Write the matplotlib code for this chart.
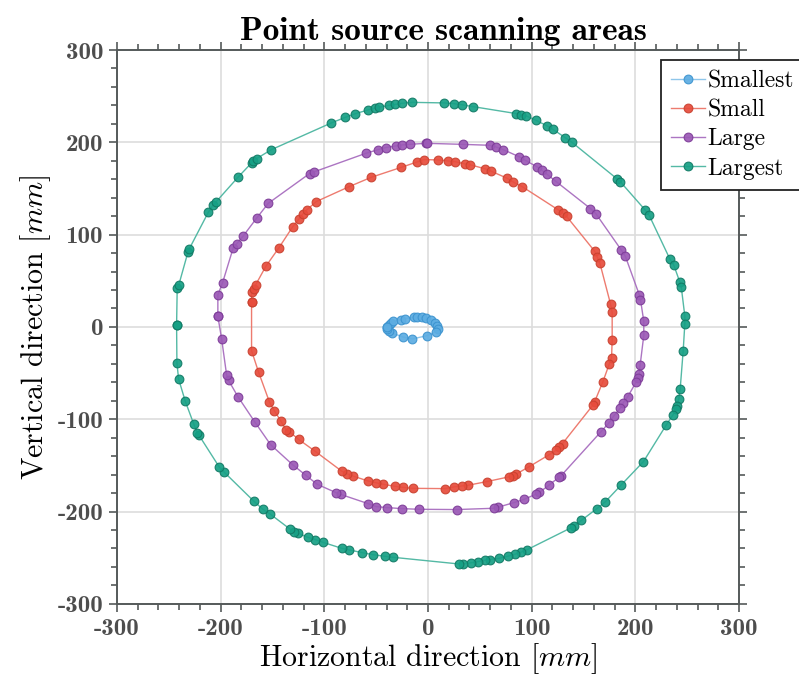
import matplotlib
matplotlib.use("Agg")
import matplotlib.pyplot as plt
from matplotlib.ticker import MultipleLocator

# ---------------- data (mm) ----------------
series_names = ["Smallest", "Small", "Large", "Largest"]

smallest_x = [-40, -38, -36, -34, -26, -22, -14, -10.5, -6, -1.5, 3, 7, 9, 10, 8, -1, -15, -24, -35, -38, -40]
smallest_y = [0, 2.5, 4, 6, 8, 9, 10.5, 11, 10.5, 9.5, 7.5, 4.5, 1, -2, -5, -9.5, -13, -11, -6.5, -4, -2]

small_x = [-170.2, -170.2, -168, -166.3, -156.4, -143.9, -130.4, -124.2, -121, -116.9, -107.8, -76, -54.8, -25.8, -10.4, -4,
           9.5, 19.5, 25.9, 35.5, 40.3, 55.4, 60.3, 76.4, 81.5, 90.8, 125.2, 129.7, 133.6, 160.8, 163.2, 165.7, 176, 177.6,
           177.6, 177, 174.7, 168.6, 160.6, 158.9, 129.7, 126.8, 123.6, 116.5, 97.6, 85.3, 81.8, 77.9, 56.7, 38.4, 32.6, 25.3, 16.2,
           -14.9, -24.6, -32, -43.2, -50.6, -58, -72.8, -78.6, -83.1, -108.8, -124.9, -133.8, -137.1, -142.2, -148.3, -153.1, -163.5, -170.2]
small_y = [27.1, 37.9, 41.5, 45.5, 65.7, 85.6, 108.7, 117.3, 122, 126.8, 135.8, 152, 162.1, 172.9, 178.8, 181.3,
           180.9, 179.8, 179.1, 176.6, 175.8, 171.2, 169, 161, 157.4, 152, 127.1, 123.8, 119.8, 81.9, 75.8, 69.3, 24.9, 15.8,
           -14.5, -33.6, -40.5, -59.6, -81.3, -84.9, -126.4, -130, -133.7, -138.7, -151.4, -159.3, -161.1, -162.5, -167.6, -171.6, -172.3, -173.3, -175.2,
           -174.9, -173.8, -172.7, -170.5, -168.7, -166.9, -161.4, -158.9, -156.4, -134.8, -121.8, -113.4, -111.3, -101.5, -90.7, -80.9, -48.8, -25.7]

large_x = [-202.7, -202.7, -198.2, -187.9, -184.7, -178.2, -165.4, -154.1, -114.3, -110.1, -60, -48, -41, -30.7, -24.9, -17.8, -2.4, -0.8,
           33.3, 59.3, 65.4, 72.5, 88.2, 93.3, 105.3, 109.5, 114.3, 123.3, 156.7, 161.8, 186.6, 190.2, 203.7, 204.9, 208.1,
           208.1, 204.6, 203.7, 202.3, 200.8, 192.7, 188.2, 185.6, 179.2, 174.7, 166.6, 127.8, 126.2, 116.5, 107.5, 103.7, 92.8, 82.8, 67.3, 63.5, 27.5,
           -8.9, -24.9, -39.1, -50, -58, -84.4, -88.9, -106.9, -117.8, -130.4, -151.9, -167.3, -183.4, -192.4, -194.3, -199.1]
large_y = [11.5, 34.7, 47.7, 85.6, 89.9, 98.6, 117.7, 133.9, 166.1, 167.9, 188.1, 192.1, 194.3, 196.1, 197.2, 197.8, 198.9, 198.9,
           197.8, 196.8, 195, 192.1, 184.2, 180.9, 173.3, 170.1, 165.8, 157.7, 128.2, 122.8, 83, 76.9, 35, 29.6, 6.1,
           -9.1, -41.2, -50.6, -55.3, -59.6, -75.5, -82.3, -87.8, -96.4, -103.7, -113.8, -161.9, -162.9, -171.6, -179.2, -181.4, -186.8, -190.4, -195.4, -196.5, -197.9,
           -197.6, -196.9, -195.8, -194.7, -191.4, -181.4, -179.5, -170.5, -160.8, -149.5, -127.5, -102.6, -75.5, -57.9, -51.7, -12.7]

largest_x = [-242.5, -241.9, -240.3, -231.6, -230.3, -212, -207.5, -204.2, -183.4, -170.2, -168.6, -165.4, -151.2, -93.3, -79.9, -70.2, -58, -51.3, -47.1, -38.1, -32.3, -25.3, -15,
             15.3, 24.9, 32.3, 43.2, 85.3, 89.9, 94.7, 104.3, 114.3, 120.4, 132.3, 138.4, 182.4, 185.6, 209.1, 213.3, 233.2, 237.1, 242.8, 244.2, 247.7, 247.7,
             246.1, 243.2, 241.9, 239.9, 239.3, 236.4, 230, 207.8, 186.6, 170.9, 162.8, 148, 141, 137.7, 95.7, 89.5, 83.7, 76.7, 68.7, 59.6, 54.5, 48.4, 41.3, 33.3, 29.4,
             -33.9, -41.9, -53.5, -63.8, -76, -83.1, -101.4, -108.8, -116.2, -125.2, -129, -133.3, -152.8, -159.3, -168.3, -196.5, -201.4, -221.3, -222.6, -226.1, -234.1, -240.6, -242.2]
largest_y = [2.5, 42.2, 45.8, 80.8, 84.5, 124, 131.7, 135.8, 162, 177.7, 179.4, 182.3, 192, 221, 227, 231, 235, 237.2, 238, 240, 241, 242.3, 243.3,
             242.7, 241.9, 240.8, 238.7, 231.1, 230, 228.6, 223.8, 218.1, 214.1, 205.1, 200.4, 160.3, 157.1, 127.1, 120.9, 73.7, 66.7, 48.8, 43.7, 11.5, 3.6,
             -25.7, -67.2, -77.7, -85.3, -88.9, -95, -105.8, -145.9, -170.9, -189.6, -196.9, -209.5, -215.6, -217.8, -241.3, -244.2, -246.4, -248.5, -250.7, -252.1, -252.8, -254.2, -255.6, -256.8, -256.8,
             -249.6, -248.5, -246.7, -244.5, -241.6, -239.9, -233.4, -230.4, -227.9, -223.6, -221.8, -218.9, -202.3, -197.6, -188.5, -157.5, -151.7, -116.7, -114.9, -104.8, -80.6, -56.3, -38.7]

xticks = [-300, -200, -100, 0, 100, 200, 300]
yticks = [-300, -200, -100, 0, 100, 200, 300]

# ---------------- styles ----------------
fills = ["#5DADE2", "#E74C3C", "#9B59B6", "#16A085"]
edges = ["#3C93CF", "#C9412F", "#7D3C98", "#117A65"]
lines = ["#85C1E9", "#EC7063", "#A569BD", "#45B39D"]

plt.rcParams["mathtext.fontset"] = "cm"
plt.rcParams["axes.unicode_minus"] = False

fig = plt.figure(figsize=(7.99, 6.91), dpi=100)
ax = fig.add_axes([0.1464, 0.1262, 0.7786, 0.8014])

data = [(smallest_x, smallest_y), (small_x, small_y), (large_x, large_y), (largest_x, largest_y)]
for name, (xs, ys), fc, ec, lc in zip(series_names, data, fills, edges, lines):
    xc = list(xs) + [xs[0]]
    yc = list(ys) + [ys[0]]
    ax.plot(xc, yc, '-', color=lc, lw=1.0, marker='o', markersize=6.3,
            markerfacecolor=fc, markeredgecolor=ec, markeredgewidth=0.8,
            alpha=0.92, label=name, zorder=3)

ax.set_xlim(-300, 300)
ax.set_ylim(-300, 300)
ax.set_xticks(xticks)
ax.set_yticks(yticks)
ax.xaxis.set_minor_locator(MultipleLocator(20))
ax.yaxis.set_minor_locator(MultipleLocator(20))
ax.grid(True, which='major', color='#dddddd', lw=1.2, zorder=0)
ax.set_axisbelow(True)

spine_col = '#555a5a'
for s in ax.spines.values():
    s.set_color(spine_col)
    s.set_linewidth(1.4)
ax.tick_params(which='both', direction='out', top=True, right=True,
               color=spine_col, width=1.2)
ax.tick_params(which='major', length=6, pad=4)
ax.tick_params(which='minor', length=4)
ax.tick_params(labeltop=False, labelright=False)

for lab in ax.get_xticklabels() + ax.get_yticklabels():
    lab.set_fontfamily('cmb10')
    lab.set_fontsize(18)
    lab.set_color('#4d4d4d')

ax.set_xlabel(r'Horizontal direction $[mm]$', fontfamily='cmr10', fontsize=21.5, labelpad=1)
ax.set_ylabel(r'Vertical direction $[mm]$', fontfamily='cmr10', fontsize=21.5, labelpad=3)
ttl = ax.set_title('Point source scanning areas', fontfamily='cmb10', fontsize=24, pad=7)
ttl.set_x(0.525)

leg = fig.legend(*ax.get_legend_handles_labels(), loc='upper left',
                 bbox_to_anchor=(661 / 799, 1 - 60 / 691), bbox_transform=fig.transFigure,
                 prop={'family': 'cmr10', 'size': 17}, frameon=True, fancybox=False,
                 handlelength=1.45, handletextpad=0.1, borderpad=0.42, labelspacing=0.3,
                 borderaxespad=0.0)
leg.get_frame().set_edgecolor('#222222')
leg.get_frame().set_linewidth(1.3)
leg.get_frame().set_alpha(1.0)

fig.savefig('out.png', dpi=100)
